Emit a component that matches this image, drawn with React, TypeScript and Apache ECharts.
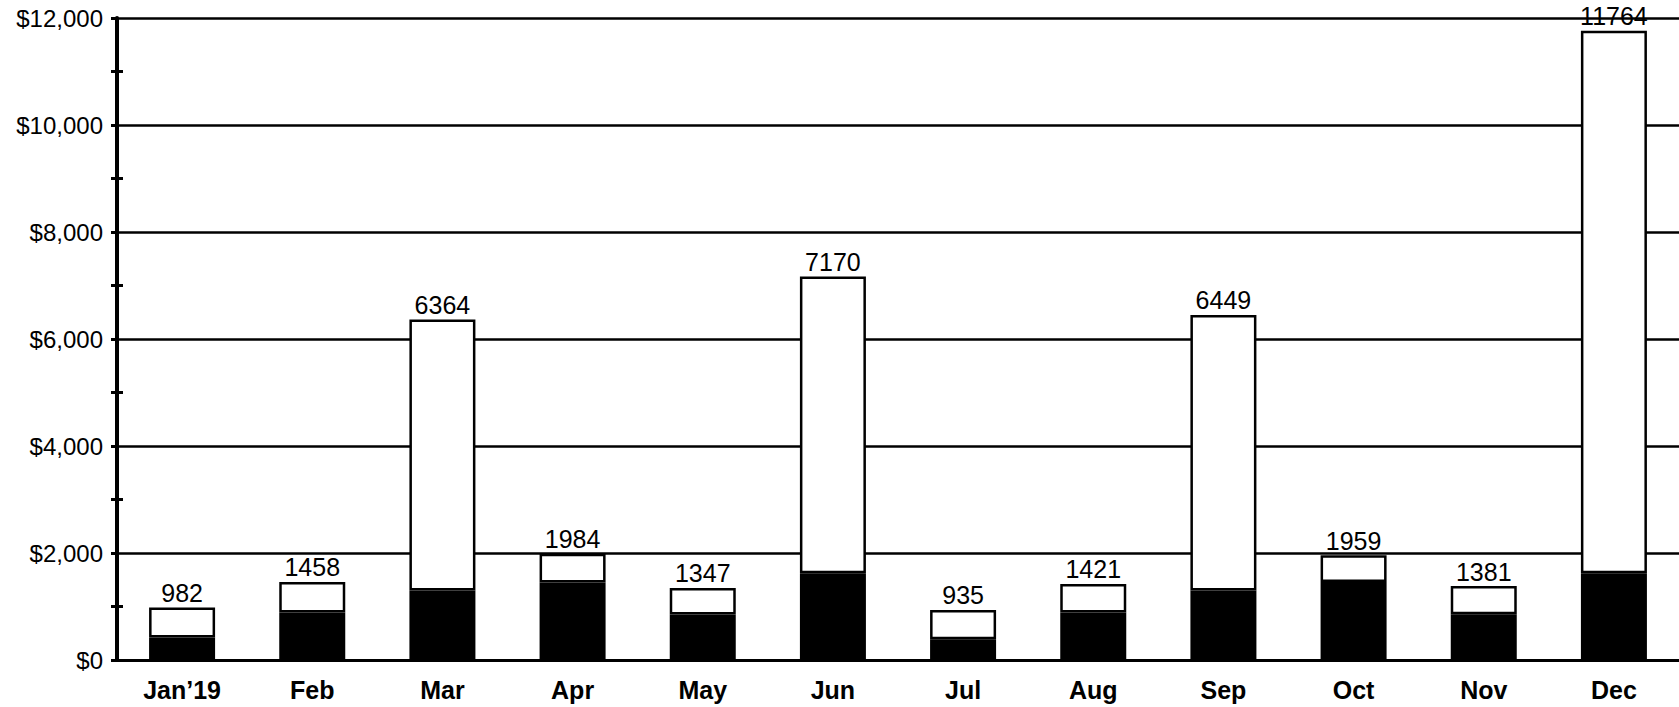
import React, { useEffect, useRef } from "react";
import * as echarts from "echarts";

const categories = ["Jan\u201919", "Feb", "Mar", "Apr", "May", "Jun", "Jul", "Aug", "Sep", "Oct", "Nov", "Dec"];
const totals = [982, 1458, 6364, 1984, 1347, 7170, 935, 1421, 6449, 1959, 1381, 11764];
const blackPart = [420, 890, 1300, 1450, 850, 1620, 390, 890, 1300, 1460, 855, 1620];
const yTicks = [0, 2000, 4000, 6000, 8000, 10000, 12000];

export default function App() {
  const ref = useRef<HTMLDivElement>(null);
  useEffect(() => {
    document.body.style.margin = "0";
    const chart = echarts.init(ref.current!, null, { renderer: "svg" });
    const whitePart = totals.map((t, i) => t - blackPart[i]);
    const yMin = yTicks[0];
    const yMax = yTicks[yTicks.length - 1];
    const yInterval = yTicks[1] - yTicks[0];
    chart.setOption({
      animation: false,
      backgroundColor: "#fff",
      grid: { left: 117, right: 0, top: 18, bottom: 47, containLabel: false },
      xAxis: {
        type: "category",
        data: categories,
        boundaryGap: true,
        axisLine: { show: true, lineStyle: { color: "#000", width: 3 } },
        axisTick: { show: false },
        axisLabel: {
          color: "#000",
          fontFamily: "Liberation Sans",
          fontWeight: "bold",
          fontSize: 25,
          margin: 17,
        },
      },
      yAxis: [
        {
          type: "value",
          min: yMin,
          max: yMax,
          interval: yInterval,
          axisLine: { show: true, lineStyle: { color: "#000", width: 4 } },
          axisTick: { show: true, length: 6, lineStyle: { color: "#000", width: 3 } },
          minorTick: { show: true, splitNumber: 2, length: 6, lineStyle: { color: "#000", width: 3 } },
          splitLine: { show: true, lineStyle: { color: "#000", width: 2.5 } },
          axisLabel: {
            color: "#000",
            fontFamily: "Liberation Sans",
            fontSize: 24,
            margin: 14,
            formatter: (v: number) => "$" + v.toLocaleString("en-US"),
          },
        },
        {
          type: "value",
          min: yMin,
          max: yMax,
          interval: yInterval,
          position: "left",
          axisLine: { show: false },
          axisTick: { show: false, inside: true },
          minorTick: { show: true, splitNumber: 2, length: 6, lineStyle: { color: "#000", width: 3 } },
          splitLine: { show: false },
          axisLabel: { show: false },
        },
      ],
      series: [
        {
          type: "bar",
          stack: "total",
          yAxisIndex: 0,
          data: blackPart,
          barWidth: 66,
          itemStyle: { color: "#000", borderColor: "#000", borderWidth: 2 },
        },
        {
          type: "bar",
          stack: "total",
          yAxisIndex: 0,
          data: whitePart,
          barWidth: 66,
          itemStyle: { color: "#fff", borderColor: "#000", borderWidth: 2.5 },
          label: {
            show: true,
            position: "top",
            distance: 2,
            color: "#000",
            fontFamily: "Liberation Sans",
            fontSize: 25,
            formatter: (p: any) => String(totals[p.dataIndex]),
          },
        },
      ],
    });
    return () => chart.dispose();
  }, []);
  return <div ref={ref} style={{ position: "fixed", left: 0, top: 0, width: 1679, height: 707 }} />;
}
